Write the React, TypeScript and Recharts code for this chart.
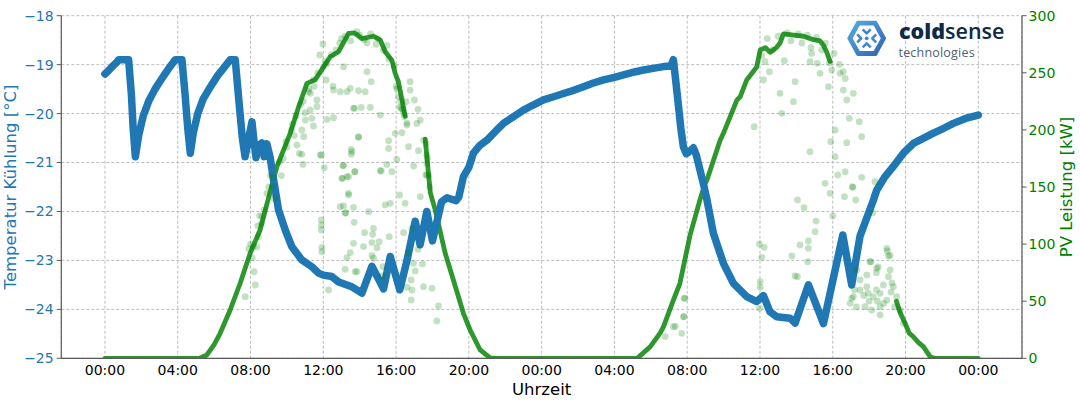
import React from 'react';
import { ComposedChart, Line, Scatter, XAxis, YAxis, CartesianGrid } from 'recharts';

// Temperature (left axis), hours since start
const tempHours = [0, 0.2, 0.45, 0.65, 0.75, 1.3, 1.45, 1.55, 1.67, 1.85, 2.1, 2.4, 2.75, 3.1, 3.5, 3.86, 4.23, 4.4, 4.55, 4.69, 4.85, 5.1, 5.4, 5.8, 6.2, 6.5, 6.88, 7.16, 7.4, 7.55, 7.7, 7.9, 8.08, 8.2, 8.3, 8.45, 8.62, 8.75, 8.9, 9.08, 9.2, 9.36, 9.54, 9.91, 10.27, 10.82, 11.37, 11.74, 12.0, 12.47, 12.84, 13.57, 14.12, 14.67, 15.31, 15.68, 16.2, 16.6, 17.05, 17.32, 17.69, 18.0, 18.5, 18.8, 19.3, 19.45, 19.7, 20.0, 20.25, 20.6, 21.0, 21.5, 21.9, 22.5, 23.0, 23.5, 24.1, 24.7, 25.2, 25.8, 26.3, 26.8, 27.4, 28.0, 28.5, 29.1, 29.6, 30.2, 30.7, 31.1, 31.24, 31.45, 31.65, 31.79, 31.95, 32.2, 32.34, 32.5, 32.7, 32.9, 33.08, 33.44, 33.99, 34.54, 35.27, 35.82, 36.19, 36.55, 36.92, 37.65, 37.93, 38.66, 39.49, 40.55, 41.04, 41.5, 42.23, 42.42, 42.85, 43.33, 43.9, 44.43, 45.0, 45.53, 46.1, 46.63, 47.3, 48.0];
const tempValues = [-19.19, -19.12, -19.02, -18.95, -18.9, -18.9, -19.6, -20.3, -20.88, -20.45, -20.05, -19.75, -19.5, -19.3, -19.08, -18.9, -18.9, -19.6, -20.3, -20.81, -20.4, -20.0, -19.7, -19.45, -19.22, -19.08, -18.9, -18.9, -19.9, -20.5, -20.88, -20.5, -20.17, -20.6, -20.9, -20.65, -20.6, -20.88, -20.62, -20.9, -21.2, -21.56, -21.97, -22.38, -22.72, -22.99, -23.13, -23.26, -23.3, -23.33, -23.44, -23.54, -23.67, -23.12, -23.58, -22.92, -23.6, -23.0, -22.2, -22.68, -22.0, -22.6, -21.8, -21.72, -21.78, -21.7, -21.29, -21.1, -20.81, -20.65, -20.54, -20.35, -20.2, -20.05, -19.93, -19.83, -19.72, -19.65, -19.59, -19.52, -19.45, -19.38, -19.31, -19.26, -19.21, -19.15, -19.11, -19.07, -19.04, -19.03, -18.9, -19.6, -20.3, -20.68, -20.82, -20.75, -20.7, -20.85, -21.15, -21.45, -21.75, -22.45, -23.06, -23.47, -23.74, -23.84, -23.72, -24.05, -24.15, -24.18, -24.28, -23.5, -24.29, -22.48, -23.5, -22.5, -21.77, -21.56, -21.3, -21.08, -20.8, -20.61, -20.5, -20.4, -20.3, -20.2, -20.1, -20.03];

// PV power main (dense) trace, right axis; null = gap
const pvHours = [0, 5.2, 5.6, 6.0, 6.33, 6.88, 7.43, 7.98, 8.53, 8.9, 9.45, 10.18, 10.64, 11.1, 11.56, 12.38, 12.84, 13.39, 13.7, 14.12, 14.76, 15.13, 15.4, 15.77, 15.95, 16.13, 16.5, 17.0, 17.6, 17.88, 18.15, 18.7, 19.15, 19.7, 20.07, 20.62, 21.17, 21.5, 29.25, 29.96, 30.51, 30.7, 31.24, 31.6, 31.79, 32.16, 32.7, 32.98, 33.08, 33.81, 33.99, 34.73, 34.91, 35.27, 35.82, 36.01, 36.3, 36.56, 36.9, 37.1, 37.29, 37.84, 38.39, 38.94, 39.3, 39.49, 39.67, 39.85, 41.0, 43.5, 43.7, 43.98, 44.2, 44.43, 44.7, 44.98, 45.2, 45.35, 45.6, 48.0];
const pvValues = [0, 0, 2.9, 12, 21.9, 42.3, 65.7, 92, 112.6, 135, 167.8, 197, 220, 240.7, 244, 264, 268.5, 284.5, 285, 280, 282, 278.7, 268.5, 261, 249.5, 242, 212, null, 192, 145, 130, 92, 68.6, 39.4, 24.8, 7.3, 0.3, 0, 0, 10, 22, 27.7, 51, 65.7, 80.2, 108, 138.7, 153, 156, 191, 197, 226, 229, 243.7, 255, 270, 272, 268, 272, 276, 284, 283, 282, 279, 278, 274, 268, 260, null, 50, 40, 30.6, 22, 18.9, 14, 10.2, 5, 1.4, 0, 0];

// PV scattered single readings (faint points)
const pvScatterHours = [7.71, 8.2, 8.26, 8.35, 8.44, 8.63, 8.9, 8.6, 8.1, 8.0, 8.5, 9.0, 9.1, 9.2, 9.3, 9.7, 9.8, 10.0, 10.3, 10.4, 10.9, 11.0, 11.3, 11.5, 12.0, 12.2, 12.7, 13.0, 13.5, 14.0, 14.4, 14.9, 15.3, 15.6, 15.9, 16.0, 16.2, 16.4, 16.6,
  7.9, 8.15, 8.4, 8.75, 9.25, 9.6, 9.95, 10.25, 10.5, 10.75, 11.2, 11.45, 11.7, 12.1, 12.45, 12.9, 13.2, 13.85, 14.25, 14.6, 15.0, 15.5, 16.05, 16.25, 16.35, 17.65, 17.72, 17.8, 17.85,
  11.98, 11.8, 13.11, 12.93, 13.3, 13.48, 13.94, 14.3, 14.4, 14.63, 13.72, 14.08, 14.58, 15.13, 12.2, 12.56, 11.65, 11.46, 10.55, 10.82, 10.88, 11.89, 12.05, 13.08, 13.53, 13.53, 13.94, 13.72, 13.39, 13.06, 15.13, 15.49, 15.77, 15.59, 15.59, 16.04, 15.95, 16.32, 16.59, 16.68, 16.96, 17.23, 17.51, 17.69, 17.69, 17.69, 17.14, 17.33, 17.01, 17.2, 16.77, 16.77, 16.13, 16.28, 16.46, 16.55, 12.16, 12.53, 11.19, 11.65, 11.37, 11.28, 11.01, 10.82, 10.68, 10.92, 13.66, 12.56, 13.57, 13.93, 13.38, 13.11, 11.83,
  13.02, 13.3, 13.75, 13.39, 13.11, 13.66, 13.24, 14.49, 13.7, 11.89, 11.89, 11.89, 11.92, 11.92, 14.27, 14.76, 14.71, 13.66, 14.21, 14.67, 14.95, 15.07, 15.62, 13.48, 13.3, 14.67, 14.76, 13.2, 13.85, 12.29, 15.27, 15.22, 15.68, 15.4, 15.18, 16.19, 16.5, 16.41, 16.87, 16.68, 17.2, 16.96, 17.45, 17.05, 16.83, 16.59, 16.87, 17.51, 17.97, 16.83, 18.33, 18.24, 17.64, 17.33, 12.93, 13.2, 13.75,
  30.79, 31.24, 31.35, 31.7, 31.79, 31.83, 31.83, 31.88, 35.68, 35.97, 35.97, 36.01, 36.01, 36.1, 36.23,
  36.1, 36.4, 36.7, 37.0, 37.5, 37.7, 38.1, 38.3, 38.6, 38.8, 39.1, 39.4, 39.6,
  40.07, 40.37, 40.58, 39.82, 39.94, 40.4, 40.68, 40.58, 40.77, 41.13, 40.91, 41.45, 41.59, 40.13, 39.89, 40.77, 40.13, 38.75, 37.2, 37.84, 37.93, 37.1, 36.52, 36.19, 37.34, 39.3, 39.76, 39.58, 41.08, 42.32, 39.15, 38.75, 38.84, 36.28,
  40.27, 40.68, 41.59, 39.85, 41.1, 40.64, 41.26, 38.06, 38.42, 40.0, 39.08, 42.2, 39.03, 38.66, 38.2, 38.66, 37.75, 38.62, 37.93, 38.06, 42.09, 42.41, 42.97, 43.06, 43.0, 43.15, 42.5, 42.05, 42.4,
  41.13, 41.5, 41.87, 42.23, 42.6, 42.97, 43.33, 43.51, 43.7, 43.88, 41.77, 42.14, 42.6, 40.95, 42.6, 43.06, 43.15, 41.5, 41.87, 42.78, 41.32, 41.04, 41.3, 41.7, 42.0, 42.4, 42.8, 43.2, 43.4, 41.95, 42.45, 43.25, 41.2];
const pvScatterValues = [54, 75.8, 64.2, 97.7, 106.5, 124, 144.5, 118, 88, 100, 125, 150, 160, 150, 140, 160, 175, 185, 205, 195, 225, 215, 232, 238, 255, 258, 270, 280, 278, 283, 276, 275, 270, 262, 256, 238, 220, 215, 206,
  96, 98, 116, 130, 158, 172, 190, 200, 212, 222, 236, 244, 250, 260, 266, 276, 282, 286, 279, 284, 280, 274, 236, 225, 218, 188, 175, 160, 150,
  275.2, 265.6, 255.3, 233.4, 233.4, 236.4, 234.3, 233.4, 251, 242.2, 218.9, 219.7, 219.7, 213, 209.2, 210.7, 220.3, 203.4, 186.7, 178.6, 169.8, 178, 166.9, 168.6, 182.9, 178.6, 193.5, 163.4, 159, 157.6, 164.3, 169.8, 163.4, 190.5, 183.8, 174.2, 197, 197.5, 204.3, 185.3, 168.4, 181.8, 191.1, 178, 170.7, 160.5, 205.7, 208.6, 226.2, 218, 242.2, 234.9, 229.1, 218.9, 211.5, 224.7, 243.7, 238.4, 233.4, 226.2, 210.1, 217.4, 208.6, 199.9, 179.4, 194.1, 219, 235, 181, 194, 144.5, 169, 178,
  157.6, 159.1, 163.4, 143, 133.4, 132.2, 127.5, 128.4, 119.1, 121.1, 116.7, 112.4, 97.2, 93.4, 110, 113.8, 108.6, 100.7, 97.8, 101.3, 96.9, 102.1, 106.5, 92.5, 88.1, 89.9, 87.6, 77.9, 75.9, 59.8, 80.3, 72.1, 135.7, 134.3, 164, 143, 135.7, 110, 113.8, 92.5, 95.4, 83.2, 82.6, 76.5, 68.6, 62.2, 59.8, 62.7, 61.3, 51.1, 45.8, 32.7, 160.5, 141.5, 132.8, 127, 75.8,
  19, 27.7, 28, 21.9, 36.4, 52.5, 36.5, 52.5, 202.8, 100.1, 43.8, 67.1, 62.2, 88.4, 97.2,
  265, 280, 270, 282, 285, 278, 284, 276, 283, 272, 281, 270, 276,
  267, 257.4, 251, 258.8, 252.4, 249.5, 245.1, 234.9, 226.2, 232, 210.1, 207.2, 194.1, 199.9, 189.7, 188.8, 176.5, 180.9, 214.5, 224.7, 242.2, 232, 250.9, 243.7, 260.6, 249.5, 237.8, 153.2, 150.3, 154.6, 258.3, 259.7, 267, 259.7,
  160.5, 163.4, 158.5, 144.5, 149.7, 141.5, 138.6, 138.6, 131.9, 124.6, 120.2, 127.5, 110.9, 102.7, 99.2, 96.3, 89.6, 84.6, 72.1, 71.5, 84.6, 78.8, 96.3, 89.6, 94, 90, 80, 84.6, 75,
  54, 59.8, 62.7, 54, 45.2, 51, 62.7, 54, 42.3, 30.6, 45.2, 42.3, 38, 48.1, 56.9, 71.5, 77.3, 68.6, 73, 64.2, 77.3, 52.5, 45, 55, 50, 60, 48, 58, 45, 57, 50, 66, 60];

const xTicks = [0, 4, 8, 12, 16, 20, 24, 28, 32, 36, 40, 44, 48];
const tempTicks = [-25, -24, -23, -22, -21, -20, -19, -18];
const pvTicks = [0, 50, 100, 150, 200, 250, 300];

const tempData = tempHours.map((h, i) => ({ h, t: tempValues[i] }));
const pvData = pvHours.map((h, i) => ({ h, p: pvValues[i] }));
const pvScatterData = pvScatterHours.map((h, i) => ({ h, p: pvScatterValues[i] }));

const BLUE = '#1f77b4';
const GREEN = '#008000';
const SPINE = '#5a5a5a';

const fmtTime = (v: number) => String(((v % 24) + 24) % 24).padStart(2, '0') + ':00';
const fmtTemp = (v: number) => (v < 0 ? '\u2212' + Math.abs(v) : String(v));

const Dot = (props: any) => {
  if (props.cx == null || props.cy == null) return <g />;
  return <circle cx={props.cx} cy={props.cy} r={3.4} fill={GREEN} fillOpacity={0.24} />;
};

const Logo = () => {
  const cx = 866.7, cy = 38.3;
  const hex = (s: number) => {
    const w = 18.4 * s, hw = 9.2 * s, h = 16.6 * s;
    return `M${cx - w},${cy} L${cx - hw},${cy - h} L${cx + hw},${cy - h} L${cx + w},${cy} L${cx + hw},${cy + h} L${cx - hw},${cy + h} Z`;
  };
  const c = '#3d86cc';
  return (
    <g>
      <defs>
        <linearGradient id="lg" x1="0" y1="0" x2="1" y2="1">
          <stop offset="0" stopColor="#55acdf" />
          <stop offset="1" stopColor="#2f64b0" />
        </linearGradient>
      </defs>
      <path d={hex(0.97)} fill="url(#lg)" stroke="url(#lg)" strokeWidth={3} strokeLinejoin="round" />
      <path d={hex(0.72)} fill="#ffffff" stroke="#ffffff" strokeWidth={1.5} strokeLinejoin="round" />
      <circle cx={cx} cy={cy} r={1.9} fill={c} />
      <polyline points={`${cx - 4},${cy - 9} ${cx},${cy - 5} ${cx + 4},${cy - 9}`} fill="none" stroke={c} strokeWidth={2.5} strokeLinejoin="round" />
      <polyline points={`${cx - 4},${cy + 9} ${cx},${cy + 5} ${cx + 4},${cy + 9}`} fill="none" stroke={c} strokeWidth={2.5} strokeLinejoin="round" />
      <polyline points={`${cx - 9.5},${cy - 4} ${cx - 5.5},${cy} ${cx - 9.5},${cy + 4}`} fill="none" stroke={c} strokeWidth={2.5} strokeLinejoin="round" />
      <polyline points={`${cx + 9.5},${cy - 4} ${cx + 5.5},${cy} ${cx + 9.5},${cy + 4}`} fill="none" stroke={c} strokeWidth={2.5} strokeLinejoin="round" />
      <text x={899} y={38.8} fontFamily="'Open Sans', Lato, sans-serif" fontSize={21.5} fill="#0e2a47">
        <tspan fontWeight={800}>cold</tspan>
        <tspan fontWeight={600}>sense</tspan>
      </text>
      <text x={898.5} y={56.5} fontFamily="'Open Sans', Lato, sans-serif" fontSize={12.5} fill="#4d6075" letterSpacing={0.2}>technologies</text>
    </g>
  );
};

export default function App() {
  const W = 1080, H = 409;
  return (
    <div style={{ position: 'relative', width: W, height: H, fontFamily: "'DejaVu Sans', sans-serif", background: '#fff' }}>
      <style>{'html,body{margin:0;padding:0;background:#fff;}'}</style>
      <ComposedChart width={W} height={H} margin={{ top: 15.7, right: 0, bottom: 0, left: 0 }}>
        <CartesianGrid yAxisId="left" stroke="#b4b4b4" strokeDasharray="3 2" strokeWidth={0.9} />
        <XAxis
          type="number"
          dataKey="h"
          domain={[-2.4, 50.4]}
          allowDataOverflow
          ticks={xTicks}
          tickFormatter={fmtTime}
          height={50.7}
          tickLine={false}
          tickSize={0}
          tickMargin={7}
          axisLine={{ stroke: SPINE, strokeWidth: 1.2 }}
          tick={{ fill: '#000', fontSize: 14 }}
          interval={0}
        />
        <YAxis
          yAxisId="left"
          type="number"
          domain={[-25, -18]}
          allowDataOverflow
          ticks={tempTicks}
          tickFormatter={fmtTemp}
          width={61.3}
          tickSize={4.6}
          tickMargin={3}
          tickLine={{ stroke: SPINE }}
          axisLine={{ stroke: SPINE, strokeWidth: 1.2 }}
          tick={{ fill: BLUE, fontSize: 14 }}
          interval={0}
        />
        <YAxis
          yAxisId="right"
          orientation="right"
          type="number"
          domain={[0, 300]}
          allowDataOverflow
          ticks={pvTicks}
          width={58}
          tickSize={4.6}
          tickMargin={2}
          tickLine={{ stroke: SPINE }}
          axisLine={{ stroke: SPINE, strokeWidth: 1.2 }}
          tick={{ fill: GREEN, fontSize: 14 }}
          interval={0}
        />
        <Scatter yAxisId="right" data={pvScatterData} dataKey="p" shape={Dot} isAnimationActive={false} />
        <Line
          yAxisId="right"
          data={pvData}
          dataKey="p"
          type="linear"
          stroke={GREEN}
          strokeOpacity={0.82}
          strokeWidth={4.8}
          strokeLinejoin="round"
          strokeLinecap="round"
          dot={false}
          activeDot={false}
          isAnimationActive={false}
        />
        <Line
          yAxisId="left"
          data={tempData}
          dataKey="t"
          type="linear"
          stroke={BLUE}
          strokeWidth={7.5}
          strokeLinejoin="round"
          strokeLinecap="round"
          dot={false}
          activeDot={false}
          isAnimationActive={false}
        />
      </ComposedChart>
      <svg width={W} height={H} style={{ position: 'absolute', left: 0, top: 0, pointerEvents: 'none' }}>
        <text x={0} y={0} transform="translate(16,187) rotate(-90)" textAnchor="middle" fontSize={16.5} fill={BLUE} fontFamily="'DejaVu Sans', sans-serif">Temperatur Kühlung [°C]</text>
        <text x={0} y={0} transform="translate(1072,187) rotate(-90)" textAnchor="middle" fontSize={16.5} fill={GREEN} fontFamily="'DejaVu Sans', sans-serif">PV Leistung [kW]</text>
        <text x={541.6} y={395} textAnchor="middle" fontSize={16.5} fill="#000" fontFamily="'DejaVu Sans', sans-serif">Uhrzeit</text>
        <Logo />
      </svg>
    </div>
  );
}
